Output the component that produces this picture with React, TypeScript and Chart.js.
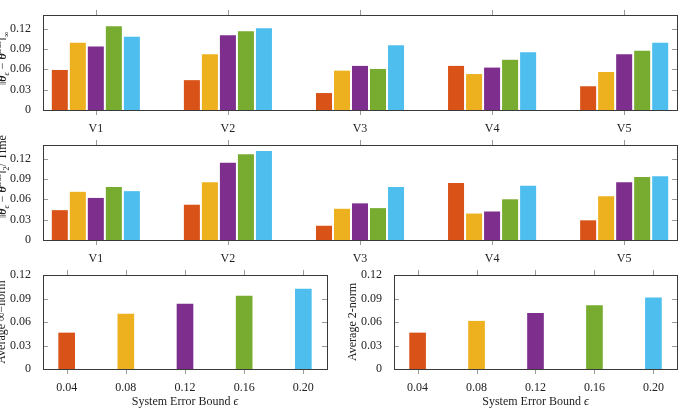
import React, { useEffect, useRef } from 'react';
import { Chart, registerables } from 'chart.js';

Chart.register(...registerables);

// ---------- data ----------
const versions = ['V1', 'V2', 'V3', 'V4', 'V5'];
const bounds = ['0.04', '0.08', '0.12', '0.16', '0.20'];
const seriesColors = ['#D95319', '#EDB120', '#7E2F8E', '#77AC30', '#4DBEEE'];

// top panel: ||theta_eps - theta_true||_inf per version, one array per error bound
const infNorm004 = [0.059, 0.044, 0.025, 0.065, 0.035];
const infNorm008 = [0.099, 0.082, 0.058, 0.053, 0.056];
const infNorm012 = [0.0935, 0.110, 0.065, 0.0625, 0.082];
const infNorm016 = [0.1235, 0.116, 0.0605, 0.074, 0.0875];
const infNorm020 = [0.108, 0.1205, 0.0955, 0.085, 0.099];

// middle panel: ||theta_eps - theta_true||_2 / Time
const twoNorm004 = [0.044, 0.052, 0.021, 0.084, 0.029];
const twoNorm008 = [0.071, 0.085, 0.046, 0.039, 0.0645];
const twoNorm012 = [0.062, 0.114, 0.054, 0.042, 0.085];
const twoNorm016 = [0.078, 0.1265, 0.047, 0.060, 0.093];
const twoNorm020 = [0.072, 0.131, 0.078, 0.080, 0.094];

// bottom panels: averages per error bound
const avgInfNorm = [0.046, 0.070, 0.083, 0.093, 0.102];
const avgTwoNorm = [0.046, 0.061, 0.071, 0.081, 0.091];

const yTickValues = [0, 0.03, 0.06, 0.09, 0.12];

// ---------- drawing helpers ----------
const FONT = "'Liberation Serif', 'Times New Roman', Times, serif";
const TEXT = '#222';

type Seg = { t: string; st?: 'rm' | 'it' | 'bi'; pos?: 'sub' | 'sup' };

function segFont(s: Seg, size: number) {
  const sz = s.pos ? Math.round(size * 0.7) : size;
  const pre = s.st === 'it' ? 'italic ' : s.st === 'bi' ? 'italic bold ' : '';
  return `${pre}${sz}px ${FONT}`;
}

function drawMath(ctx: CanvasRenderingContext2D, x: number, y: number, segs: Seg[], size: number, angle: number, align: 'start' | 'center', baseline: CanvasTextBaseline = 'alphabetic') {
  ctx.save();
  ctx.translate(x, y);
  ctx.rotate(angle);
  ctx.fillStyle = TEXT;
  ctx.textAlign = 'left';
  ctx.textBaseline = baseline;
  const widths = segs.map((s) => {
    ctx.font = segFont(s, size);
    return ctx.measureText(s.t).width;
  });
  const total = widths.reduce((a, b) => a + b, 0);
  let cx = align === 'center' ? -total / 2 : 0;
  segs.forEach((s, i) => {
    ctx.font = segFont(s, size);
    const dy = s.pos === 'sub' ? size * 0.28 : s.pos === 'sup' ? -size * 0.42 : 0;
    ctx.fillText(s.t, cx, dy);
    cx += widths[i];
  });
  ctx.restore();
}

const framePlugin = {
  id: 'pgfFrame',
  afterDraw(chart: any) {
    const { ctx, chartArea: a } = chart;
    const xs = chart.scales.x;
    const ys = chart.scales.y;
    ctx.save();
    ctx.lineWidth = 1;
    ctx.strokeStyle = '#9a9a9a';
    ctx.beginPath();
    for (const t of xs.ticks) {
      const px = Math.round(xs.getPixelForValue(t.value)) + 0.5;
      ctx.moveTo(px, a.bottom);
      ctx.lineTo(px, a.bottom + 5);
      ctx.moveTo(px, a.top);
      ctx.lineTo(px, a.top - 5);
    }
    for (const t of ys.ticks) {
      const py = Math.round(ys.getPixelForValue(t.value)) + 0.5;
      if (py > a.bottom - 2 || py < a.top + 2) continue;
      ctx.moveTo(a.left, py);
      ctx.lineTo(a.left + 5, py);
      ctx.moveTo(a.right, py);
      ctx.lineTo(a.right - 5, py);
    }
    ctx.stroke();
    ctx.strokeStyle = '#3a3a3a';
    ctx.strokeRect(Math.round(a.left) + 0.5, Math.round(a.top) + 0.5, Math.round(a.right - a.left), Math.round(a.bottom - a.top));
    ctx.restore();
  },
};

type BuildArgs = {
  xLabels: string[];
  yMax: number;
  yWidth: number;
  xHeight: number;
  padTop: number;
  padRight: number;
  datasets: any[];
  barOpts: any;
  drawTitles: (chart: any) => void;
};

function buildConfig(a: BuildArgs): any {
  return {
    type: 'bar',
    data: { datasets: a.datasets },
    options: {
      responsive: false,
      animation: false,
      devicePixelRatio: 1,
      layout: { padding: { left: 0, top: a.padTop, right: a.padRight, bottom: 0 } },
      plugins: { legend: { display: false }, tooltip: { enabled: false } },
      datasets: { bar: a.barOpts },
      scales: {
        x: {
          type: 'linear',
          offset: false,
          min: -0.4,
          max: 4.4,
          grid: { display: false, offset: false },
          border: { display: false },
          afterBuildTicks: (s: any) => {
            s.ticks = a.xLabels.map((_, i) => ({ value: i }));
          },
          afterFit: (s: any) => {
            s.height = a.xHeight;
          },
          ticks: {
            autoSkip: false,
            maxRotation: 0,
            padding: 4,
            color: TEXT,
            font: { family: FONT, size: 12 },
            callback: (v: number) => a.xLabels[Math.round(v)],
          },
        },
        y: {
          type: 'linear',
          min: 0,
          max: a.yMax,
          grid: { display: false },
          border: { display: false },
          afterBuildTicks: (s: any) => {
            s.ticks = yTickValues.map((v) => ({ value: v }));
          },
          afterFit: (s: any) => {
            s.width = a.yWidth;
          },
          ticks: {
            padding: 4,
            color: TEXT,
            font: { family: FONT, size: 12 },
            callback: (v: number) => (v === 0 ? '0' : v.toFixed(2)),
          },
        },
      },
    },
    plugins: [framePlugin, { id: 'titles', afterDraw: a.drawTitles }],
  };
}

function groupedSets(series: number[][]) {
  return series.map((vals, j) => ({
    label: bounds[j],
    data: vals.map((v, i) => ({ x: i, y: v })),
    backgroundColor: seriesColors[j],
    borderWidth: 0,
  }));
}

const normLabel = (tail: Seg[]): Seg[] => [
  { t: '‖', st: 'rm' },
  { t: 'θ', st: 'bi' },
  { t: 'ϵ', st: 'it', pos: 'sub' },
  { t: ' − ', st: 'rm' },
  { t: 'θ', st: 'bi' },
  { t: 'true', st: 'rm', pos: 'sup' },
  { t: '‖', st: 'rm' },
  ...tail,
];

const xTitle: Seg[] = [
  { t: 'System Error Bound ', st: 'rm' },
  { t: 'ϵ', st: 'it' },
];

function ChartCanvas({ left, top, width, height, make }: { left: number; top: number; width: number; height: number; make: () => any }) {
  const ref = useRef<HTMLCanvasElement>(null);
  useEffect(() => {
    const chart = new Chart(ref.current as HTMLCanvasElement, make());
    return () => chart.destroy();
  }, []);
  return (
    <canvas
      ref={ref}
      width={width}
      height={height}
      style={{ position: 'absolute', left, top, width, height, display: 'block' }}
    />
  );
}

export default function App() {
  const groupedBar = { categoryPercentage: 0.682, barPercentage: 0.889 };
  const singleBar = { barThickness: 16 };

  const top = () =>
    buildConfig({
      xLabels: versions,
      yMax: 0.14,
      yWidth: 43,
      xHeight: 25,
      padTop: 15,
      padRight: 4,
      datasets: groupedSets([infNorm004, infNorm008, infNorm012, infNorm016, infNorm020]),
      barOpts: groupedBar,
      drawTitles: (c: any) => drawMath(c.ctx, 6, 85, normLabel([{ t: '∞', st: 'rm', pos: 'sub' }]), 12, -Math.PI / 2, 'start'),
    });

  const mid = () =>
    buildConfig({
      xLabels: versions,
      yMax: 0.14,
      yWidth: 43,
      xHeight: 25,
      padTop: 15,
      padRight: 4,
      datasets: groupedSets([twoNorm004, twoNorm008, twoNorm012, twoNorm016, twoNorm020]),
      barOpts: groupedBar,
      drawTitles: (c: any) =>
        drawMath(c.ctx, 6, 88, normLabel([{ t: '2', st: 'rm', pos: 'sub' }, { t: '/ Time', st: 'rm' }]), 12, -Math.PI / 2, 'start'),
    });

  const single = (vals: number[], yWidth: number, padRight: number, title: string, titleX: number) => () =>
    buildConfig({
      xLabels: bounds,
      yMax: 0.12,
      yWidth,
      xHeight: 41,
      padTop: 15,
      padRight,
      datasets: [
        {
          label: title,
          data: vals.map((v, i) => ({ x: i, y: v })),
          backgroundColor: seriesColors,
          borderWidth: 0,
        },
      ],
      barOpts: singleBar,
      drawTitles: (c: any) => {
        const a = c.chartArea;
        drawMath(c.ctx, titleX, (a.top + a.bottom) / 2, [{ t: title, st: 'rm' }], 12, -Math.PI / 2, 'center');
        drawMath(c.ctx, (a.left + a.right) / 2, 142, xTitle, 12, 0, 'center', 'middle');
      },
    });

  return (
    <div style={{ position: 'fixed', left: 0, top: 0, width: 681, height: 410, background: '#fff' }}>
      <ChartCanvas left={0} top={0} width={681} height={135} make={top} />
      <ChartCanvas left={0} top={130} width={681} height={135} make={mid} />
      <ChartCanvas left={0} top={260} width={340} height={150} make={single(avgInfNorm, 43, 13, 'Average ∞−norm', 5)} />
      <ChartCanvas left={340} top={260} width={341} height={150} make={single(avgTwoNorm, 54, 4, 'Average 2-norm', 16)} />
    </div>
  );
}
